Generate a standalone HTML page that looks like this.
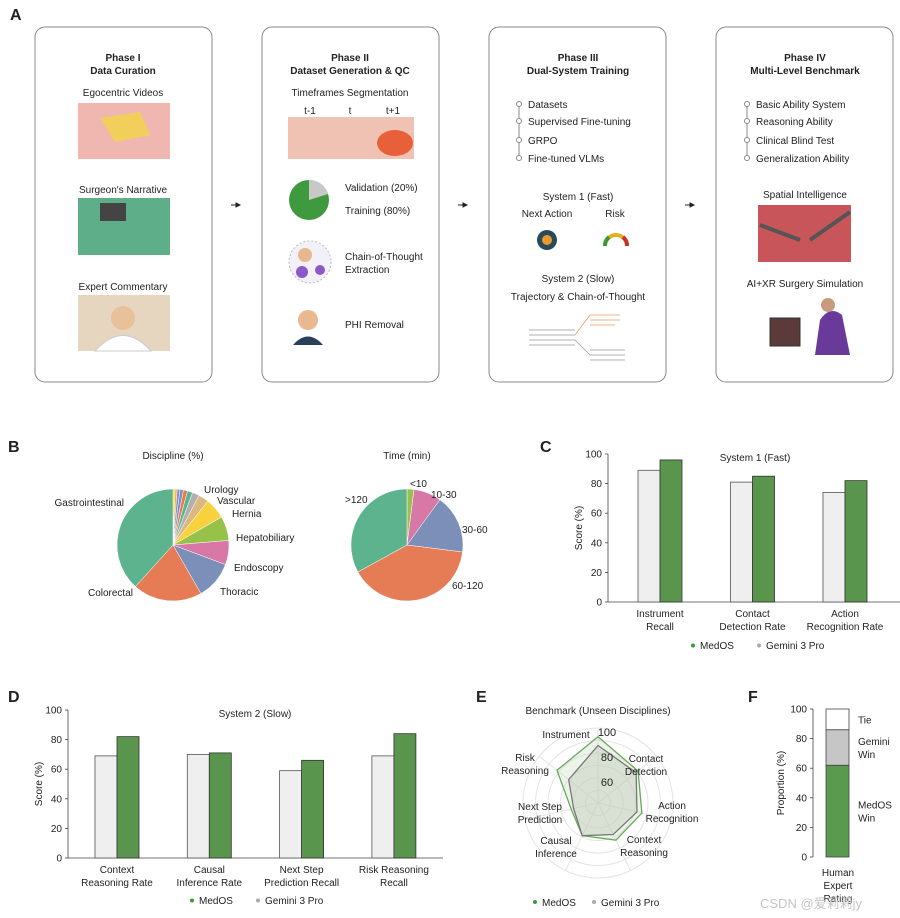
<!DOCTYPE html>
<html><head><meta charset="utf-8"><style>
body{margin:0;background:#fff;}
svg{display:block;font-family:"Liberation Sans","Noto Sans CJK SC",sans-serif;}
text{fill:#222;}
</style></head><body>
<svg id="fig" width="900" height="918" viewBox="0 0 900 918" xmlns="http://www.w3.org/2000/svg">
<g id="panelA" font-size="10">
<text x="10" y="20" font-size="16" font-weight="bold">A</text>
<rect x="35" y="27" width="177" height="355" rx="10" fill="none" stroke="#888"/>
<rect x="262" y="27" width="177" height="355" rx="10" fill="none" stroke="#888"/>
<rect x="489" y="27" width="177" height="355" rx="10" fill="none" stroke="#888"/>
<rect x="716" y="27" width="177" height="355" rx="10" fill="none" stroke="#888"/>
<g fill="#222" stroke="#222">
<line x1="231" y1="205" x2="238" y2="205"/><path d="M236 203 L240 205 L236 207Z"/>
<line x1="458" y1="205" x2="465" y2="205"/><path d="M463 203 L467 205 L463 207Z"/>
<line x1="685" y1="205" x2="692" y2="205"/><path d="M690 203 L694 205 L690 207Z"/>
</g>
<g text-anchor="middle" font-weight="bold" font-size="10">
<text x="123" y="61">Phase I</text><text x="123" y="74">Data Curation</text>
<text x="350" y="61">Phase II</text><text x="350" y="74">Dataset Generation &amp; QC</text>
<text x="578" y="61">Phase III</text><text x="578" y="74">Dual-System Training</text>
<text x="805" y="61">Phase IV</text><text x="805" y="74">Multi-Level Benchmark</text>
</g>
<g text-anchor="middle">
<text x="123" y="96">Egocentric Videos</text>
<text x="123" y="193">Surgeon's Narrative</text>
<text x="123" y="290">Expert Commentary</text>
<text x="350" y="96">Timeframes Segmentation</text>
<text x="310" y="114">t-1</text><text x="350" y="114">t</text><text x="393" y="114">t+1</text>
<text x="578" y="200">System 1 (Fast)</text>
<text x="547" y="217">Next Action</text><text x="615" y="217">Risk</text>
<text x="578" y="282">System 2 (Slow)</text>
<text x="578" y="300">Trajectory &amp; Chain-of-Thought</text>
<text x="805" y="198">Spatial Intelligence</text>
<text x="805" y="287">AI+XR Surgery Simulation</text>
</g>
<rect x="78" y="103" width="92" height="56" fill="#f0b7b0"/>
<path d="M100 118 L140 112 L150 135 L115 142Z" fill="#f2cf5a"/>
<rect x="78" y="198" width="92" height="57" fill="#5fae8a"/>
<rect x="100" y="203" width="26" height="18" fill="#444"/>
<rect x="78" y="295" width="92" height="56" fill="#e6d6c0"/>
<circle cx="123" cy="318" r="12" fill="#e8c09a"/><path d="M95 351 Q123 320 151 351Z" fill="#fff" stroke="#ccc"/>
<rect x="288" y="117" width="126" height="42" fill="#f0c2b4"/>
<ellipse cx="395" cy="143" rx="18" ry="13" fill="#e8603a"/>
<circle cx="309" cy="200" r="20" fill="#3f9a3f"/>
<path d="M309 200 L309 180 A20 20 0 0 1 328 194Z" fill="#c8c8c8"/>
<text x="345" y="191">Validation (20%)</text><text x="345" y="214">Training (80%)</text>
<circle cx="310" cy="262" r="21" fill="#f4f0f8" stroke="#bbb" stroke-dasharray="2 2"/>
<circle cx="305" cy="255" r="7" fill="#e8b890"/><circle cx="302" cy="272" r="6" fill="#8a5ac8"/><circle cx="320" cy="270" r="5" fill="#8a5ac8"/>
<text x="345" y="260">Chain-of-Thought</text><text x="345" y="273">Extraction</text>
<circle cx="308" cy="320" r="10" fill="#e8b890"/><path d="M293 345 Q308 328 323 345Z" fill="#2a3f5a"/>
<text x="345" y="328">PHI Removal</text>
<g>
<line x1="519" y1="104" x2="519" y2="158" stroke="#888"/>
<circle cx="519" cy="104" r="2.5" fill="#fff" stroke="#888"/><circle cx="519" cy="121" r="2.5" fill="#fff" stroke="#888"/><circle cx="519" cy="140" r="2.5" fill="#fff" stroke="#888"/><circle cx="519" cy="158" r="2.5" fill="#fff" stroke="#888"/>
<text x="528" y="108">Datasets</text><text x="528" y="125">Supervised Fine-tuning</text><text x="528" y="144">GRPO</text><text x="528" y="162">Fine-tuned VLMs</text>
</g>
<g>
<line x1="747" y1="104" x2="747" y2="158" stroke="#888"/>
<circle cx="747" cy="104" r="2.5" fill="#fff" stroke="#888"/><circle cx="747" cy="121" r="2.5" fill="#fff" stroke="#888"/><circle cx="747" cy="140" r="2.5" fill="#fff" stroke="#888"/><circle cx="747" cy="158" r="2.5" fill="#fff" stroke="#888"/>
<text x="756" y="108">Basic Ability System</text><text x="756" y="125">Reasoning Ability</text><text x="756" y="144">Clinical Blind Test</text><text x="756" y="162">Generalization Ability</text>
</g>
<circle cx="547" cy="240" r="10" fill="#2a4a5a"/><circle cx="547" cy="240" r="5" fill="#e89a30"/>
<path d="M605 246 A11 11 0 0 1 627 246" fill="none" stroke="#e0b020" stroke-width="4"/>
<path d="M605 246 A11 11 0 0 1 609 237" fill="none" stroke="#3a9a3a" stroke-width="4"/><path d="M623 237 A11 11 0 0 1 627 246" fill="none" stroke="#c83030" stroke-width="4"/>
<g stroke="#999" stroke-width="0.8">
<line x1="529" y1="330" x2="575" y2="330"/><line x1="529" y1="335" x2="575" y2="335"/><line x1="529" y1="340" x2="575" y2="340"/><line x1="529" y1="345" x2="575" y2="345"/>
<line x1="575" y1="335" x2="590" y2="315" stroke="#e89a60"/><line x1="590" y1="315" x2="620" y2="315" stroke="#e89a60"/><line x1="590" y1="320" x2="620" y2="320" stroke="#e89a60"/><line x1="590" y1="325" x2="615" y2="325" stroke="#e89a60"/>
<line x1="575" y1="340" x2="590" y2="355"/><line x1="590" y1="350" x2="625" y2="350"/><line x1="590" y1="355" x2="625" y2="355"/><line x1="590" y1="360" x2="625" y2="360"/>
</g>
<rect x="758" y="205" width="93" height="57" fill="#c8555a"/>
<path d="M760 225 L800 240 M850 212 L810 240" stroke="#555" stroke-width="4"/>
<rect x="770" y="318" width="30" height="28" fill="#5a3a3a" stroke="#333"/>
<path d="M815 355 L820 320 Q830 305 842 315 L850 355Z" fill="#6a3a9a"/><circle cx="828" cy="305" r="7" fill="#c89a80"/>
</g>

<g id="panelB" font-size="10">
<text x="8" y="452" font-size="16" font-weight="bold">B</text>
<text x="173" y="459" text-anchor="middle">Discipline (%)</text>
<text x="407" y="459" text-anchor="middle">Time (min)</text>
<g id="pie1"></g><g id="pie2"></g>
<text x="124" y="506" text-anchor="end">Gastrointestinal</text>
<text x="204" y="493">Urology</text><text x="217" y="504">Vascular</text><text x="232" y="517">Hernia</text>
<text x="236" y="541">Hepatobiliary</text><text x="234" y="571">Endoscopy</text><text x="220" y="595">Thoracic</text>
<text x="133" y="596" text-anchor="end">Colorectal</text>
<text x="345" y="503">&gt;120</text><text x="410" y="487">&lt;10</text><text x="431" y="498">10-30</text>
<text x="462" y="533">30-60</text><text x="452" y="589">60-120</text>
</g>

<g id="panelC" font-size="10"><text x="540" y="452" font-size="16" font-weight="bold">C</text></g>
<g id="panelD" font-size="10"><text x="8" y="702" font-size="16" font-weight="bold">D</text></g>
<g id="panelE" font-size="10"><text x="476" y="702" font-size="16" font-weight="bold">E</text></g>
<g id="panelF" font-size="10"><text x="748" y="702" font-size="16" font-weight="bold">F</text></g>
<text x="760" y="908" font-size="13" style="fill:#c4c4c4">CSDN @爱莉莉jy</text>
</svg>
<script>
const NS="http://www.w3.org/2000/svg";
// ---- data ----
const discLabels=["mini1","mini2","mini3","mini4","mini5","Urology","Vascular","Hernia-small","Hernia","Hepatobiliary","Endoscopy","Thoracic","Colorectal","Gastrointestinal"];
const discValues=[0.6,0.6,0.8,1,1.2,1.5,2,3,6,7,7,11,20,38.3];
const discColors=["#f5d23a","#f0b030","#8a8ac8","#7a90c0","#e87a50","#5db38e","#b0b0b0","#dcb880","#f7d23e","#97c24a","#d778a6","#7b8fb8","#e67c56","#5cb38d"];
const timeLabels=["<10","10-30","30-60","60-120",">120"];
const timeValues=[2,8,17,40,33];
const timeColors=["#97c24a","#d778a6","#7b8fb8","#e67c56","#5cb38d"];
const cCats=[["Instrument","Recall"],["Contact","Detection Rate"],["Action","Recognition Rate"]];
const cGemini=[89,81,74];
const cMedos=[96,85,82];
const dCats=[["Context","Reasoning Rate"],["Causal","Inference Rate"],["Next Step","Prediction Recall"],["Risk Reasoning","Recall"]];
const dGemini=[69,70,59,69];
const dMedos=[82,71,66,84];
const yTicks=[0,20,40,60,80,100];
const eAxes=["Instrument","Contact Detection","Action Recognition","Context Reasoning","Causal Inference","Next Step Prediction","Risk Reasoning"];
const eMedos=[93,81,76,73,69,62,82];
const eGemini=[86,79,72,68,69,60,70];
const eRings=[50,60,70,80,90,100];
const eTicks=[60,80,100];
const fCats=["MedOS Win","Gemini Win","Tie"];
const fValues=[62,24,14];
const fColors=["#5a9a4f","#c6c6c6","#ffffff"];
const MED="#5a954e", GEM="#efefef";

function el(tag,attrs,parent){const e=document.createElementNS(NS,tag);for(const k in attrs)e.setAttribute(k,attrs[k]);parent.appendChild(e);return e;}
function txt(s,attrs,parent){const t=el("text",attrs,parent);t.textContent=s;return t;}

function pie(g,cx,cy,r,vals,cols,labels){
  const tot=vals.reduce((a,b)=>a+b,0);let a0=-Math.PI/2;
  vals.forEach((v,i)=>{const a1=a0+v/tot*2*Math.PI;
    const x0=cx+r*Math.cos(a0),y0=cy+r*Math.sin(a0),x1=cx+r*Math.cos(a1),y1=cy+r*Math.sin(a1);
    const p=el("path",{d:`M${cx} ${cy} L${x0} ${y0} A${r} ${r} 0 ${a1-a0>Math.PI?1:0} 1 ${x1} ${y1}Z`,fill:cols[i],stroke:"#fff","stroke-width":0.5},g);
    
    
    a0=a1;});
}
pie(document.getElementById("pie1"),173,545,56,discValues,discColors,discLabels);
pie(document.getElementById("pie2"),407,545,56,timeValues,timeColors,timeLabels);

function bars(g,o,cats,gem,med,title){
  const y=v=>o.y0-(v/100)*(o.y0-o.y100);
  el("line",{x1:o.ax,y1:o.y100,x2:o.ax,y2:o.y0,stroke:"#444","stroke-width":0.8},g);
  el("line",{x1:o.ax,y1:o.y0,x2:o.xEnd,y2:o.y0,stroke:"#444","stroke-width":0.8},g);
  yTicks.forEach(t=>{el("line",{x1:o.ax-3,y1:y(t),x2:o.ax,y2:y(t),stroke:"#444","stroke-width":0.8},g);
    txt(String(t),{x:o.ax-6,y:y(t)+3.5,"text-anchor":"end"},g);});
  const yt=txt("Score (%)",{x:0,y:0,"text-anchor":"middle",transform:`translate(${o.ax-26},${(o.y0+o.y100)/2}) rotate(-90)`},g);
  
  const tt=txt(title,{x:o.titleX,y:o.y100+7,"text-anchor":"middle"},g);
  
  cats.forEach((c,i)=>{const cx=o.c0+i*o.step;
    const b1=el("rect",{x:cx-o.bw,y:y(gem[i]),width:o.bw,height:o.y0-y(gem[i]),fill:GEM,stroke:"#555","stroke-width":0.8},g);
    
    const b2=el("rect",{x:cx,y:y(med[i]),width:o.bw,height:o.y0-y(med[i]),fill:MED,stroke:"#333","stroke-width":0.8},g);
    
    c.forEach((s,j)=>{const l=txt(s,{x:cx,y:o.y0+15+j*13,"text-anchor":"middle"},g);
      });
  });
  const lg=el("g",{},g);
  el("circle",{cx:o.lx,cy:o.ly-3.5,r:2,fill:"#3a9a3a"},lg);txt("MedOS",{x:o.lx+7,y:o.ly},lg);
  el("circle",{cx:o.lx+66,cy:o.ly-3.5,r:2,fill:"#aaa"},lg);txt("Gemini 3 Pro",{x:o.lx+73,y:o.ly},lg);
}
bars(document.getElementById("panelC"),{ax:608,xEnd:900,y0:602,y100:454,c0:660,step:92.5,bw:22,titleX:755,lx:693,ly:649},cCats,cGemini,cMedos,"System 1 (Fast)");
bars(document.getElementById("panelD"),{ax:68,xEnd:443,y0:858,y100:710,c0:117,step:92.3,bw:22,titleX:255,lx:192,ly:904},dCats,dGemini,dMedos,"System 2 (Slow)");

// radar
(function(){
  const g=document.getElementById("panelE");const cx=598,cy=803;
  const r=v=>Math.max(0,(v-40)*1.25);const n=eAxes.length;
  const ang=i=>-Math.PI/2+i*2*Math.PI/n;
  txt("Benchmark (Unseen Disciplines)",{x:598,y:714,"text-anchor":"middle"},g);
  eRings.forEach(v=>el("circle",{cx,cy,r:r(v),fill:"none",stroke:"#e4e4e4"},g));
  eAxes.forEach((a,i)=>el("line",{x1:cx,y1:cy,x2:cx+r(100)*Math.cos(ang(i)),y2:cy+r(100)*Math.sin(ang(i)),stroke:"#e4e4e4"},g));
  const poly=(vals,fill,stroke,name)=>{const p=el("polygon",{points:vals.map((v,i)=>(cx+r(v)*Math.cos(ang(i)))+","+(cy+r(v)*Math.sin(ang(i)))).join(" "),fill,"fill-opacity":0.35,stroke,"stroke-width":1.3},g);
    };
  poly(eMedos,"#c8dcc0","#6aaa5a","radar-medos");
  poly(eGemini,"#b8bfb0","#777","radar-gemini");
  eTicks.forEach(v=>txt(String(v),{x:cx+9,y:cy-r(v)+8,"text-anchor":"middle","font-size":"11"},g));
  const labelPos=[[566,738,1],[646,768,2],[672,815,2],[644,849,2],[556,850,2],[540,816,2],[525,767,2]];
  eAxes.forEach((a,i)=>{const [x,y,nl]=labelPos[i];
    const w=a.split(" ");const lines=nl===1?[a]:[w.slice(0,w.length-1).join(" "),w[w.length-1]];
    lines.forEach((s,j)=>{const t=txt(s,{x:x,y:y+j*13-(lines.length-1)*6,"text-anchor":"middle"},g);
      });
  });
  const lg=el("g",{},g);
  el("circle",{cx:535,cy:902,r:2,fill:"#3a9a3a"},lg);txt("MedOS",{x:542,y:906},lg);
  el("circle",{cx:594,cy:902,r:2,fill:"#aaa"},lg);txt("Gemini 3 Pro",{x:601,y:906},lg);
})();

// stacked
(function(){
  const g=document.getElementById("panelF");const y0=857,y100=709,ax=813;
  const y=v=>y0-v/100*(y0-y100);
  el("line",{x1:ax,y1:y100,x2:ax,y2:y0,stroke:"#444","stroke-width":0.8},g);
  yTicks.forEach(t=>{el("line",{x1:ax-3,y1:y(t),x2:ax,y2:y(t),stroke:"#444","stroke-width":0.8},g);txt(String(t),{x:ax-6,y:y(t)+3.5,"text-anchor":"end"},g);});
  txt("Proportion (%)",{x:0,y:0,"text-anchor":"middle",transform:`translate(784,${(y0+y100)/2}) rotate(-90)`},g);
  let acc=0;fValues.forEach((v,i)=>{const b=el("rect",{x:826,y:y(acc+v),width:23,height:y(acc)-y(acc+v),fill:fColors[i],stroke:"#444","stroke-width":0.8},g);
    
    const w=fCats[i].split(" ");const mid=y(acc+v/2);
    w.forEach((s,j)=>txt(s,{x:858,y:mid+4+(j-(w.length-1)/2)*13},g));acc+=v;});
  ["Human","Expert","Rating"].forEach((s,j)=>txt(s,{x:838,y:876+j*13,"text-anchor":"middle"},g));
})();
</script>
</body></html>
